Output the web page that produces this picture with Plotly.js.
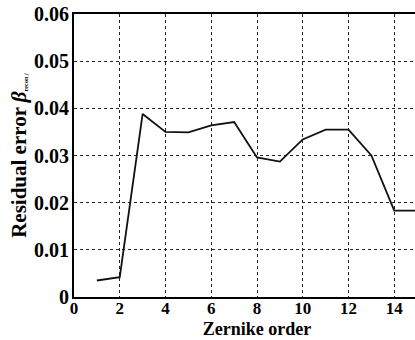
<!DOCTYPE html>
<html><head><meta charset="utf-8">
<script src="https://cdn.plot.ly/plotly-3.0.1.min.js"></script>
<style>html,body{margin:0;padding:0;overflow:hidden;background:#fff;width:415px;height:340px}#c{width:445px;height:340px}</style>
</head><body><div id="c"></div>
<script>
const order = [1,2,3,4,5,6,7,8,9,10,11,12,13,14,15];
const residual = [0.0035,0.0042,0.0388,0.0350,0.0349,0.0364,0.0371,0.0296,0.0287,0.0334,0.0355,0.0355,0.0300,0.0183,0.0183];
const xTicks = [0,2,4,6,8,10,12,14];
const yTicks = [0,0.01,0.02,0.03,0.04,0.05,0.06];
const yTickText = ['0','0.01','0.02','0.03','0.04','0.05','0.06'];

const fam = '"Liberation Serif", "Times New Roman", serif';
Plotly.newPlot('c', [{
  x: order, y: residual, type:'scatter', mode:'lines',
  line:{color:'#111', width:1.8}
}], {
  width:445, height:340,
  margin:{l:74, r:5, t:14, b:43},
  paper_bgcolor:'#fff', plot_bgcolor:'#fff',
  showlegend:false,
  font:{family:fam, size:18, color:'#000'},
  xaxis:{
    range:[0,16], tickvals:xTicks, ticktext:xTicks.map(String),
    showgrid:true, gridcolor:'#222', griddash:'dot', gridwidth:1,
    showline:true, linecolor:'#000', linewidth:2, mirror:true,
    ticks:'', zeroline:false, ticklabelstandoff:-5,
    tickfont:{family:fam, size:17, color:'#000', weight:'bold'},
    title:{text:'<b>Zernike order</b>', font:{family:fam, size:18, color:'#000'}, standoff:5}
  },
  yaxis:{
    range:[0,0.06], tickvals:yTicks, ticktext:yTickText,
    showgrid:true, gridcolor:'#222', griddash:'dot', gridwidth:1,
    showline:true, linecolor:'#000', linewidth:2, mirror:true,
    ticks:'', zeroline:false, ticklabelstandoff:-1,
    tickfont:{family:fam, size:20, color:'#000', weight:'bold'},
    title:{text:'<b>Residual error </b><b><i>β</i></b><span style="font-size:9px"><sub><b>recon</b> <i>j</i></sub></span>', font:{family:fam, size:21, color:'#000'}, standoff:2}
  }
}, {staticPlot:true, displayModeBar:false});
</script></body></html>
